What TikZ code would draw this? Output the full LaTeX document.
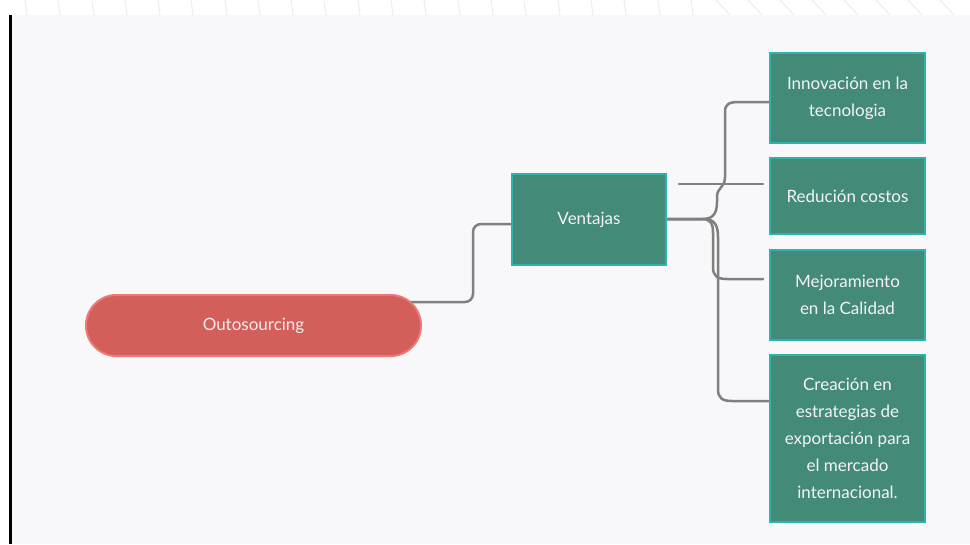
\documentclass[tikz,border=0pt]{standalone}
\usepackage{fontspec}
\setmainfont{Lato}
\usetikzlibrary{shapes.misc}
\pgfdeclarelayer{panel}
\pgfdeclarelayer{links}
\pgfsetlayers{panel,links,main}
\definecolor{paper}{HTML}{F8F8FA}
\definecolor{stripe}{HTML}{EBF0F3}
\definecolor{linkgray}{HTML}{808080}
\definecolor{boxfill}{HTML}{448A78}
\definecolor{boxedge}{HTML}{2CB3AB}
\definecolor{pillfill}{HTML}{D25F59}
\definecolor{pilledge}{HTML}{F27676}
\definecolor{boxtext}{HTML}{F4F4F4}
\tikzset{
  leafbox/.style={draw=boxedge, fill=boxfill, line width=2.5pt, minimum width=155pt,
    align=center, text=boxtext, font=\fontsize{17}{27}\selectfont, inner sep=0pt},
  rootpill/.style={draw=pilledge, fill=pillfill, line width=2pt, rounded rectangle,
    minimum width=335pt, minimum height=61pt, text=boxtext!95!pillfill,
    font=\fontsize{17}{27}\selectfont, inner sep=0pt},
  link/.style={draw=linkgray, line width=2.5pt, line cap=round}
}
\begin{document}
\begin{tikzpicture}[x=1pt, y=-1pt]
\useasboundingbox (0,0) rectangle (970,544);
\begin{pgfonlayer}{panel}
  \fill[white] (0,0) rectangle (970,544);
  % faint decorative strokes along the top margin
  \foreach \sx in {25,58,92,125,158,191,225,258,291,324,358,391,424,458,491,524,558,591,624,658,691}
    \draw[stripe, line width=1.2pt] (\sx,0) -- (\sx+2,15);
  \foreach \sx in {716,748,780,812,844,876,908,940,972}
    \draw[stripe, line width=1.2pt] (\sx,0) -- (\sx+14,15);
  \fill[paper] (12,15) rectangle (970,544);
  \draw[black, line width=2.5pt] (10.5,15) -- (10.5,544);
\end{pgfonlayer}

% nodes
\node[rootpill] (root) at (253.5,325.5) {Outosourcing};
\node[leafbox, minimum width=154pt, minimum height=91pt] (adv) at (589,219.5) {Ventajas};
\node[leafbox, minimum height=90pt] (b1) at (847.5,98) {Innovación en la\\tecnologia};
\node[leafbox, minimum height=76pt] (b2) at (847.5,196) {Redución costos};
\node[leafbox, minimum height=90pt] (b3) at (847.5,295) {Mejoramiento\\en la Calidad};
\node[leafbox, minimum height=167pt] (b4) at (847.5,438.5) {Creación en\\estrategias de\\exportación para\\el mercado\\internacional.};

% loose ends of the short strokes
\coordinate (c2a) at (679,184);
\coordinate (c2b) at (763,184);
\coordinate (c3b) at (763,279);

\begin{pgfonlayer}{links}
  \draw[link, rounded corners=8pt] (root.center |- 0,302) -- (473,302) -- (473,224) -- (adv.center |- 0,224);
  \draw[link] (adv.center |- 0,219) -- (703,219)
    .. controls (714,219) and (717,212) .. (717,202) -- (717,197)
    .. controls (717,187) and (725,188) .. (725,177) -- (725,112)
    .. controls (725,104) and (729,102) .. (739,102) -- (b1.center |- 0,102);
  \draw[link] (c2a) -- (c2b);
  \draw[link] (adv.center |- 0,219) -- (702,219)
    .. controls (711,219) and (713,224) .. (713,233) -- (713,267)
    .. controls (713,276) and (717,279) .. (727,279) -- (c3b);
  \draw[link] (adv.center |- 0,219) -- (704,219)
    .. controls (715,219) and (718,226) .. (718,237) -- (718,389)
    .. controls (718,398) and (722,401) .. (732,401) -- (b4.center |- 0,401);
\end{pgfonlayer}
\end{tikzpicture}
\end{document}
